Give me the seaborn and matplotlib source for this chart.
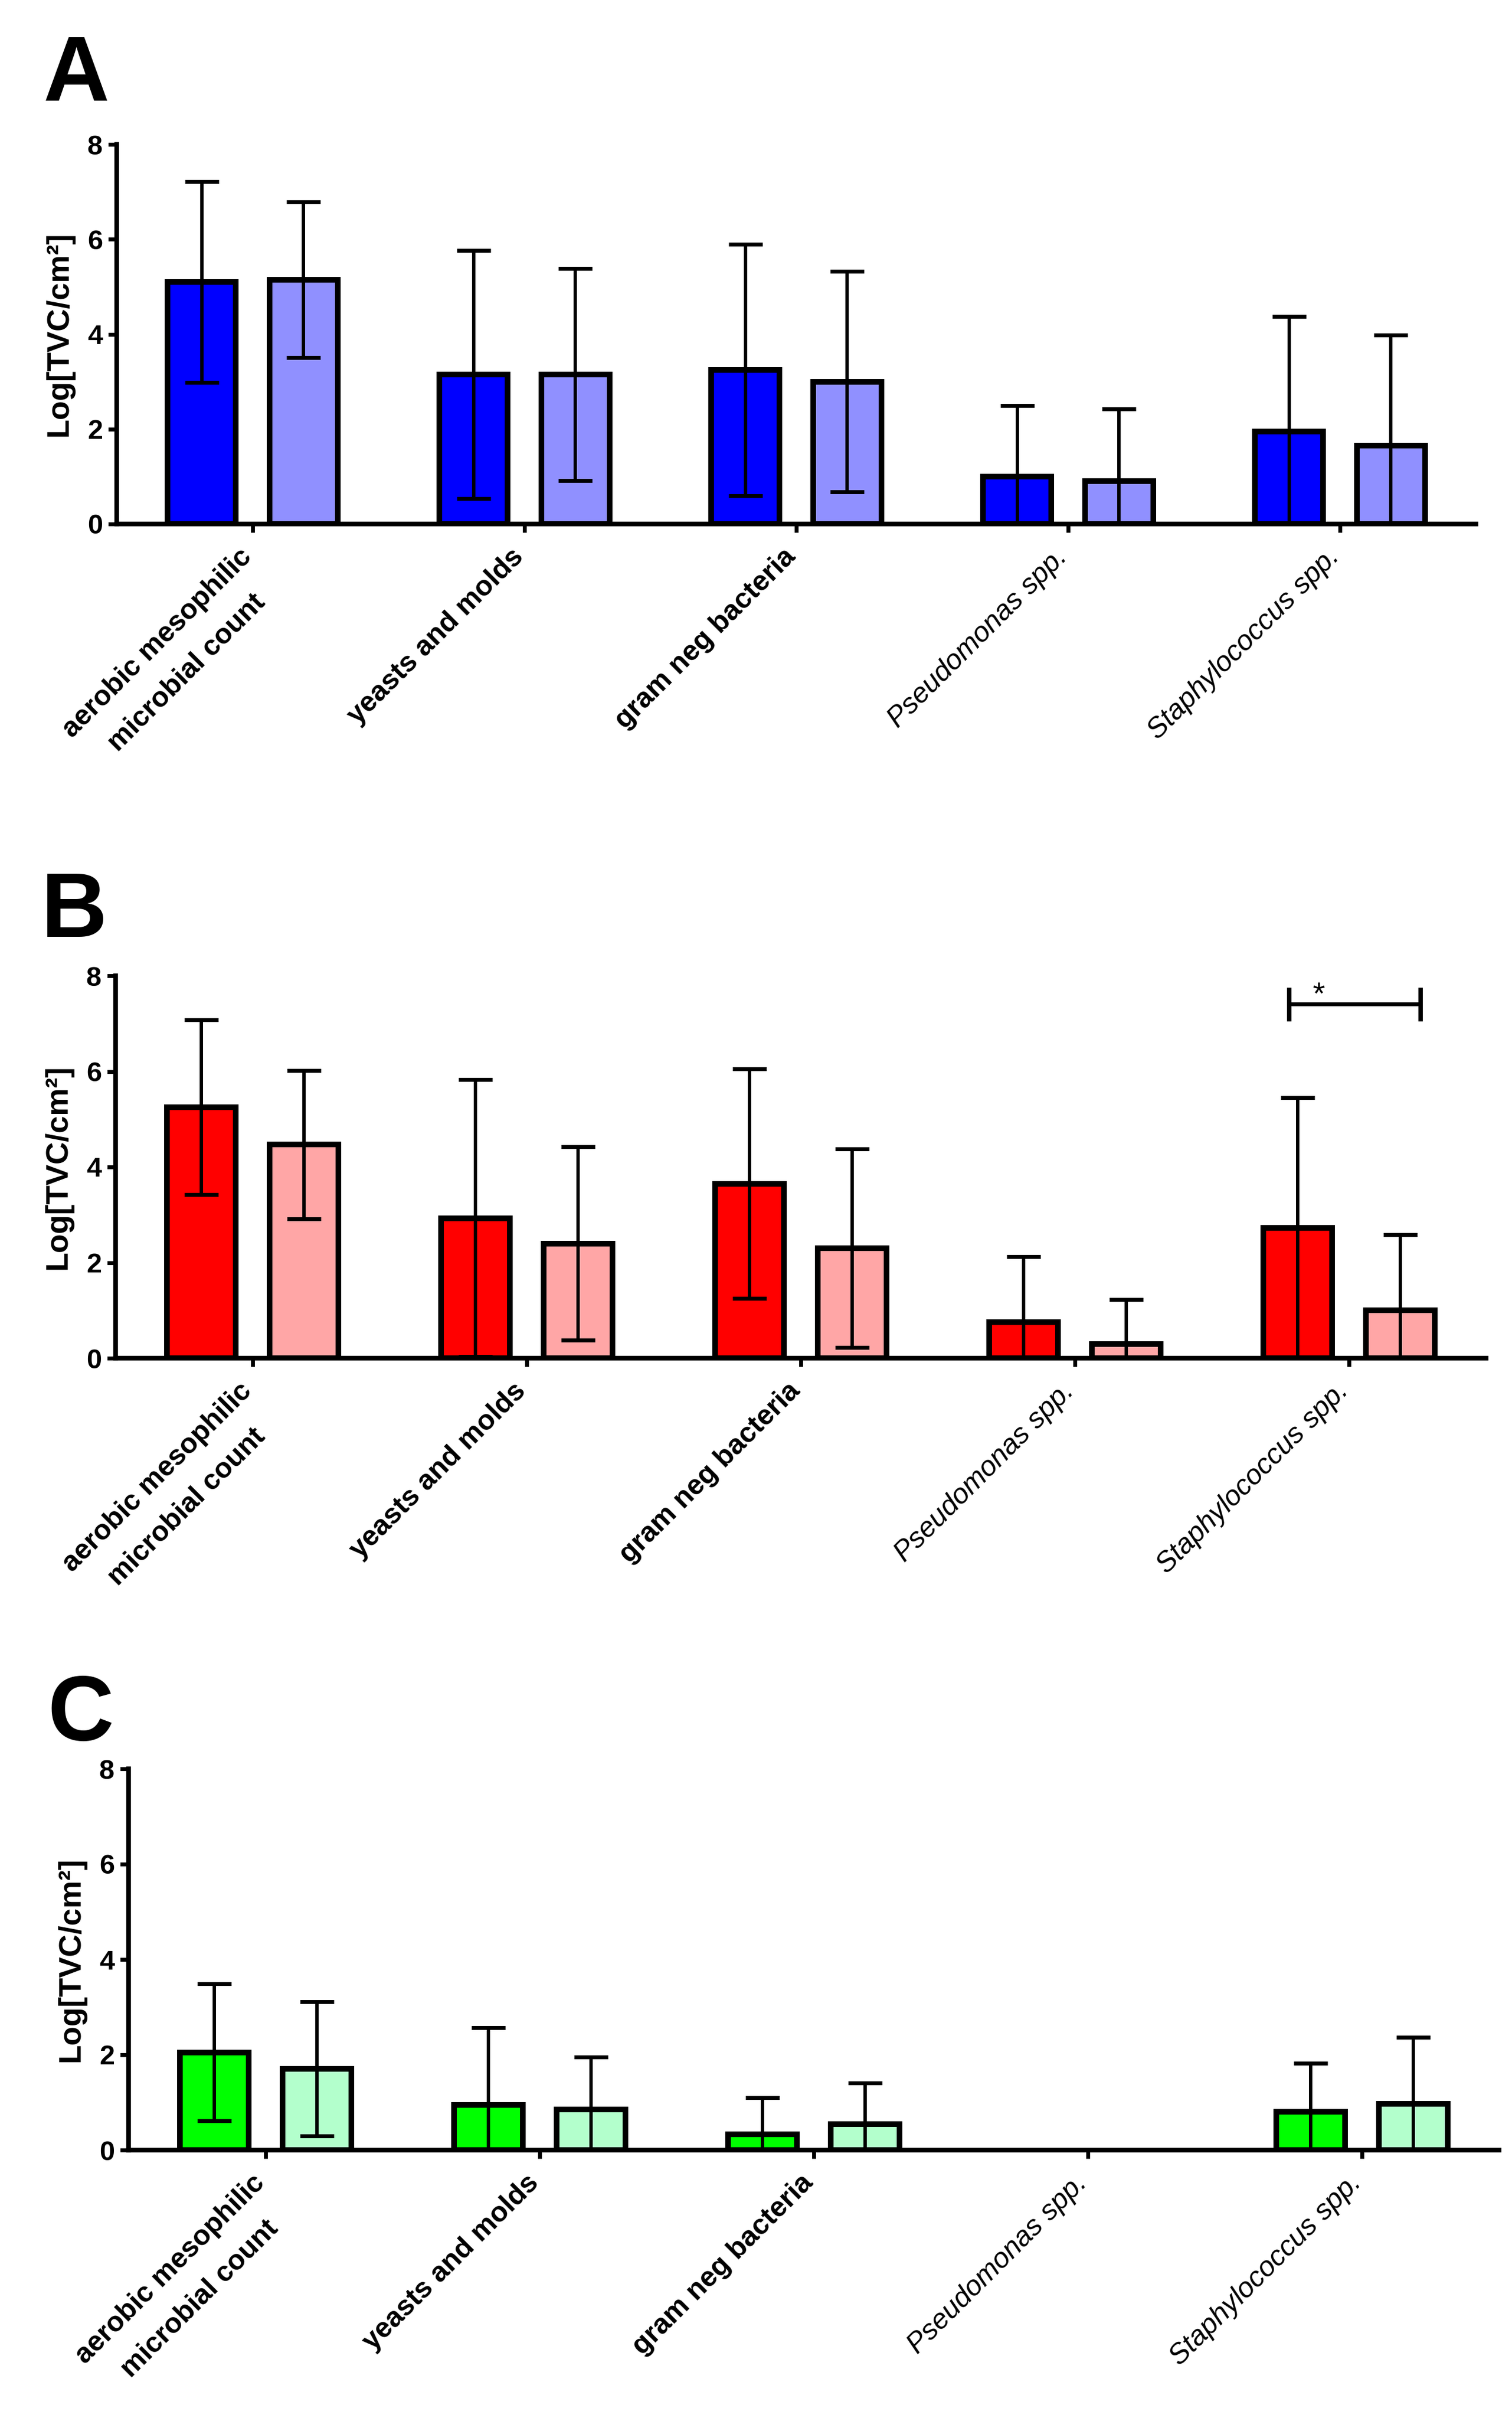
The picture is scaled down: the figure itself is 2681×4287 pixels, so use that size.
import matplotlib
matplotlib.use("Agg")
import matplotlib.pyplot as plt
import matplotlib.transforms as mtransforms
import pandas as pd
import seaborn as sns

# categories on the x axis
categories = ["aerobic mesophilic\nmicrobial count", "yeasts and molds", "gram neg bacteria",
              "Pseudomonas spp.", "Staphylococcus spp."]
series = ["first", "second"]

# panel A (mean and SD, log TVC/cm2)
a_first = [5.10, 3.15, 3.25, 1.00, 1.95]
a_first_sd = [2.12, 2.62, 2.65, 1.50, 2.42]
a_second = [5.15, 3.15, 3.00, 0.90, 1.65]
a_second_sd = [1.64, 2.23, 2.32, 1.53, 2.33]

# panel B
b_first = [5.25, 2.93, 3.65, 0.75, 2.72]
b_first_sd = [1.83, 2.90, 2.40, 1.37, 2.73]
b_second = [4.47, 2.40, 2.30, 0.30, 1.00]
b_second_sd = [1.55, 2.02, 2.08, 0.93, 1.58]

# panel C (no Pseudomonas found)
c_first = [2.05, 0.95, 0.33, 0.0, 0.80]
c_first_sd = [1.44, 1.62, 0.77, 0.0, 1.02]
c_second = [1.70, 0.85, 0.55, 0.0, 0.97]
c_second_sd = [1.41, 1.10, 0.86, 0.0, 1.40]

W, H, DPI = 2681, 4287, 100

sns.set_style("ticks")
plt.rcParams["font.family"] = ["Liberation Sans", "DejaVu Sans"]
plt.rcParams.update({"text.color": "black", "axes.labelcolor": "black",
                     "xtick.color": "black", "ytick.color": "black",
                     "axes.edgecolor": "black"})

fig = plt.figure(figsize=(W / DPI, H / DPI), dpi=DPI)


def px_rect(left, right, top, bottom):
    return [left / W, 1 - bottom / H, (right - left) / W, (bottom - top) / H]


panels = [
    ("A", a_first, a_first_sd, a_second, a_second_sd, ["#0000FF", "#9090FF"],
     px_rect(207, 2617, 256, 929), (77, 179)),
    ("B", b_first, b_first_sd, b_second, b_second_sd, ["#FF0000", "#FFA6A6"],
     px_rect(205, 2635, 1730, 2408), (72, 1661)),
    ("C", c_first, c_first_sd, c_second, c_second_sd, ["#00FF00", "#B3FFCC"],
     px_rect(228, 2658, 3136, 3812), (84, 3085)),
]

axes = {}
for letter, first, first_sd, second, second_sd, colors, rect, lpos in panels:
    ax = fig.add_axes(rect)
    axes[letter] = ax
    df = pd.DataFrame({
        "category": categories * 2,
        "series": [series[0]] * len(categories) + [series[1]] * len(categories),
        "value": first + second,
    })
    sns.barplot(data=df, x="category", y="value", hue="series", order=categories,
                hue_order=series, palette=colors, saturation=1, width=0.75, gap=1 / 3,
                edgecolor="black", linewidth=7.2, errorbar=None, legend=False, ax=ax, zorder=2)

    for cont, sds in zip(ax.containers, [first_sd, second_sd]):
        for bar in cont:
            xc = bar.get_x() + bar.get_width() / 2
            sd = sds[int(round(xc))]
            if bar.get_height() == 0:
                bar.set_linewidth(0)
                continue
            ax.errorbar(xc, bar.get_height(), yerr=sd, fmt="none", ecolor="black",
                        elinewidth=4.3, capsize=21.6, capthick=5.0, zorder=3)

    ax.set_xlim(-0.5, 4.5)
    ax.set_ylim(0, 8)
    ax.set_yticks([0, 2, 4, 6, 8])
    for side in ["top", "right"]:
        ax.spines[side].set_visible(False)
    for side in ["left", "bottom"]:
        ax.spines[side].set_linewidth(6)
        ax.spines[side].set_zorder(4)
    ax.tick_params(axis="y", length=11, width=5, pad=7, labelsize=35)
    ax.tick_params(axis="x", length=11, width=5, pad=14)
    for lab in ax.get_yticklabels():
        lab.set_fontweight("bold")

    ax.set_xlabel("")
    ax.set_ylabel("Log[TVC/cm²]", fontsize=40, fontweight="bold")
    ax.yaxis.set_label_coords(-76 / (rect[2] * W), 0.5)

    ax.set_xticks(range(len(categories)))
    ax.set_xticklabels(categories, rotation=45, ha="right", va="top",
                       multialignment="center", linespacing=1.8)
    shift = mtransforms.ScaledTranslation(-25 / DPI, 0, fig.dpi_scale_trans)
    for i, lab in enumerate(ax.get_xticklabels()):
        lab.set_fontsize(36)
        lab.set_rotation_mode("anchor")
        if i < 3:
            lab.set_fontweight("bold")
        else:
            lab.set_fontstyle("italic")
        lab.set_transform(lab.get_transform() + shift)

    fig.text(lpos[0] / W, 1 - lpos[1] / H, letter, fontsize=117, fontweight="bold",
             ha="left", va="baseline")

# significance bracket for Staphylococcus in panel B
axb = axes["B"]
x_dark = axb.containers[0][4].get_x() + axb.containers[0][4].get_width() / 2
x_light = axb.containers[1][4].get_x() + axb.containers[1][4].get_width() / 2
axb.plot([x_dark - 0.03, x_light + 0.073], [7.41, 7.41], color="black", lw=5.0,
         solid_capstyle="butt", zorder=5)
for xe in [x_dark - 0.03, x_light + 0.073]:
    axb.plot([xe, xe], [7.04, 7.75], color="black", lw=5.6, solid_capstyle="butt", zorder=5)
axb.text(x_dark + 0.076, 7.42, "*", fontsize=40, ha="center", va="baseline", zorder=5)

fig.savefig("out.png", dpi=DPI, facecolor="white")
